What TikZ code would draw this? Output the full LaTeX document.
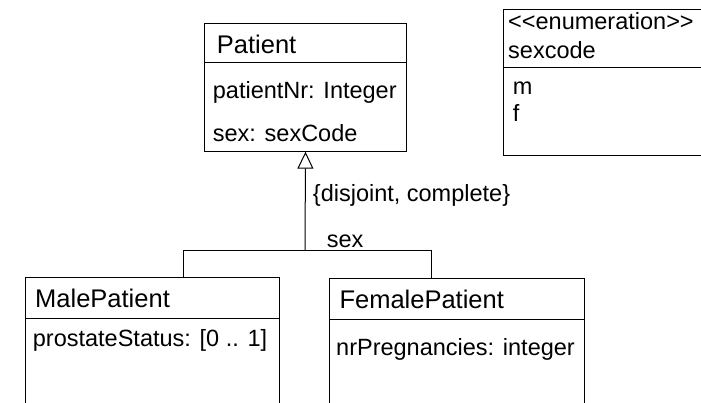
\documentclass[tikz,border=0pt]{standalone}
\usepackage{fontspec}
\setmainfont{Liberation Sans}
\usetikzlibrary{arrows.meta}
\tikzset{
  box/.style={draw, line width=1pt, rectangle, inner sep=0pt, anchor=north west},
  attr/.style={anchor=base west, inner sep=0pt, font=\fontsize{23.5}{28}\selectfont},
  ttl/.style={anchor=base west, inner sep=0pt, font=\fontsize{25.5}{30}\selectfont},
  conn/.style={line width=1pt},
  gen/.style={line width=1pt, -{Triangle[open, length=17pt, width=16pt, line width=1pt]}}
}
\begin{document}
\begin{tikzpicture}[x=1pt,y=-1pt]
\useasboundingbox (0,0) rectangle (701,403);
\clip (0,0) rectangle (701,403);
% Patient
\node[box, minimum width=202pt, minimum height=128pt] (patient) at (204,22.7) {};
\draw[conn] (204,62.7) -- (406,62.7);
\node[ttl] (pt) at (216.7,53.3) {Patient};
\node[attr] (pa1) at (212.7,99) {patientNr: Integer};
\node[attr] (pa2) at (212.7,141.7) {sex: sexCode};
% Enumeration
\node[box, minimum width=220pt, minimum height=145.7pt] (enum) at (502.7,9.3) {};
\draw[conn] (502.7,68) -- (722.7,68);
\node[attr] (et1) at (508,30) {<{}<enumeration>{}>};
\node[attr] (et2) at (508,58.3) {sexcode};
\node[attr] (em) at (512.7,95) {m};
\node[attr] (ef) at (512.7,121.7) {f};
% MalePatient
\node[box, minimum width=254pt, minimum height=150pt] (male) at (25,277.3) {};
\draw[conn] (25,318.7) -- (279,318.7);
\node[ttl] (mt) at (35,307.7) {MalePatient};
\node[attr] (ma) at (32.7,346) {prostateStatus: [0 .. 1]};
% FemalePatient
\node[box, minimum width=255pt, minimum height=150pt] (female) at (329,278.3) {};
\draw[conn] (329,319.7) -- (584,319.7);
\node[ttl] (ft) at (339.3,308.3) {FemalePatient};
\node[attr] (fa) at (336,355) {nrPregnancies: integer};
% Generalization
\coordinate (j) at (305,250.7);
\coordinate (ml) at (183,250.7);
\coordinate (fl) at (431.7,250.7);
\draw[gen] (j) -- (patient.south);
\draw[conn] (ml |- male.north) -- (ml) -- (fl) -- (fl |- female.north);
\node[attr] (dc) at (312.7,201.7) {\{disjoint, complete\}};
\node[attr] (sx) at (326.7,247.3) {sex};
\end{tikzpicture}
\end{document}
